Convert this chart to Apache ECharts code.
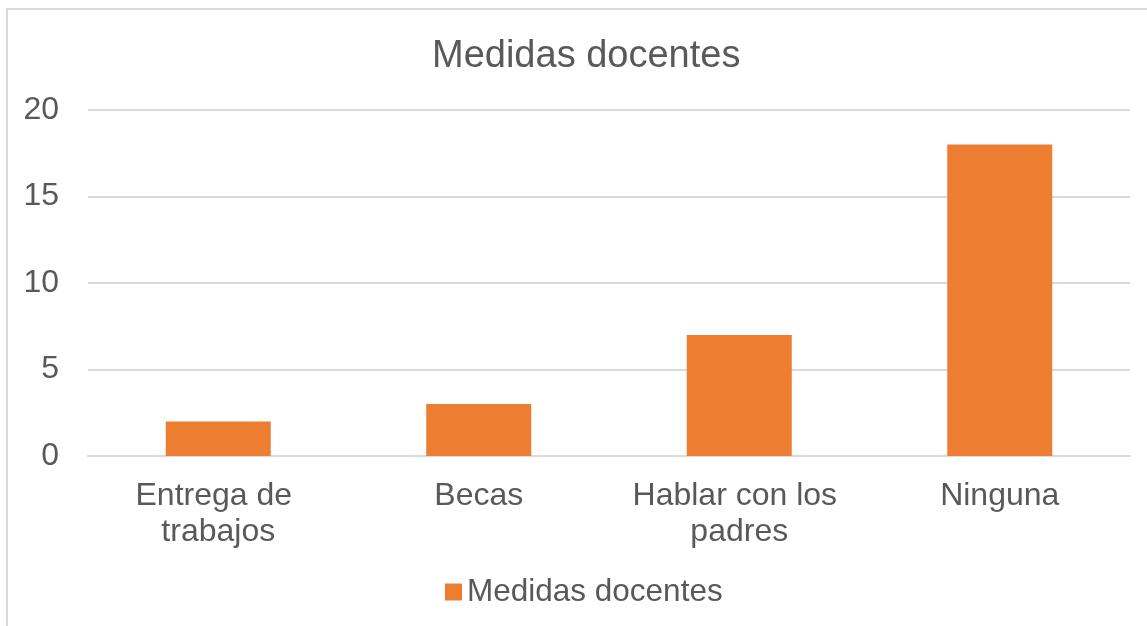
<!DOCTYPE html>
<html>
<head>
<meta charset="utf-8">
<script src="https://cdn.jsdelivr.net/npm/echarts@6/dist/echarts.min.js"></script>
<style>
  html, body { margin: 0; padding: 0; background: #fff; overflow: hidden; }
  #frame {
    position: absolute; left: 6px; top: 8px; width: 1200px; height: 700px;
    border: 2px solid #d9d9d9; box-sizing: border-box;
  }
  #chart { position: absolute; left: 0; top: 0; width: 1147px; height: 626px; }
</style>
</head>
<body>
<div id="frame"></div>
<div id="chart"></div>
<script>
const categories = ['Entrega de trabajos', 'Becas', 'Hablar con los padres', 'Ninguna'];
const values = [2, 3, 7, 18];
const seriesName = 'Medidas docentes';

const textColor = '#595959';
const fontFamily = '"Liberation Sans", Arial, sans-serif';

const chart = echarts.init(document.getElementById('chart'));

const option = {
  animation: false,
  title: {
    text: 'Medidas docentes',
    left: 427,
    top: 33,
    textStyle: { color: textColor, fontSize: 38, fontWeight: 'normal', fontFamily }
  },
  legend: {
    data: [seriesName],
    left: 440,
    bottom: 13,
    itemWidth: 17,
    itemHeight: 17,
    textStyle: { color: textColor, fontSize: 31.5, fontFamily, padding: [0, 0, 0, 0] },
    icon: 'rect'
  },
  grid: {
    left: 88,
    right: 17,
    top: 110,
    bottom: 170
  },
  xAxis: {
    type: 'category',
    data: categories,
    axisLine: { lineStyle: { color: '#d9d9d9', width: 2 } },
    axisTick: { show: false },
    axisLabel: {
      color: textColor,
      fontSize: 32,
      fontFamily,
      lineHeight: 36,
      margin: 22,
      width: 235,
      overflow: 'break',
      interval: 0
    }
  },
  yAxis: {
    type: 'value',
    min: 0,
    max: 20,
    interval: 5,
    axisLine: { show: false },
    axisTick: { show: false },
    splitLine: { lineStyle: { color: '#d9d9d9', width: 2 } },
    axisLabel: { color: textColor, fontSize: 32, fontFamily, margin: 29 }
  },
  series: [
    {
      name: seriesName,
      type: 'bar',
      data: values,
      barWidth: 105,
      itemStyle: { color: '#ED7D31' }
    }
  ]
};

chart.setOption(option);
</script>
</body>
</html>
